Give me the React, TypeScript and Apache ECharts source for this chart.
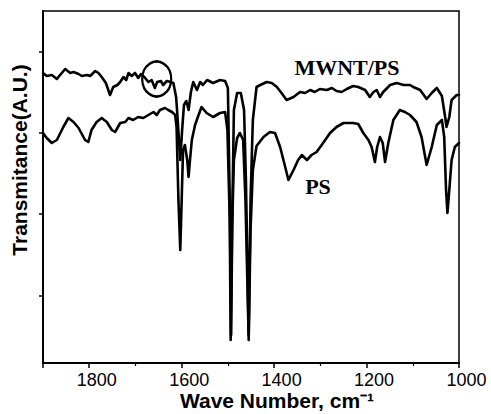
import React, { useEffect, useRef } from "react";
import * as echarts from "echarts";

// Wavenumbers (cm-1) and transmittance (arbitrary units)
const mwntWave = [1900,1892,1881,1870,1863,1852,1841,1834,1823,1816,1805,1798,1787,1780,1773,1764,1755,1748,1739,1733,1726,1720,1715,1708,1701,1694,1688,1679,1672,1665,1658,1653,1645,1640,1632,1624,1618,1612,1610,1603,1599,1595,1590,1585,1580,1575,1567,1560,1554,1545,1532,1517,1506,1500,1496,1493,1490,1487,1480,1472,1465,1461,1455,1451,1446,1438,1430,1416,1405,1394,1384,1373,1358,1344,1333,1322,1312,1301,1286,1275,1265,1254,1243,1229,1218,1203,1193,1185,1178,1171,1164,1149,1135,1120,1106,1099,1084,1070,1059,1048,1037,1030,1027,1021,1016,1005,1000];
const mwntValue = [290,287,288,284,288,294,290,291,289,287,288,287,292,290,286,280,268,276,278,281,286,283,290,287,290,285,289,285,281,283,275,281,282,278,282,281,280,266,253,203,233,258,262,253,271,281,273,281,278,283,280,283,282,275,163,28,163,253,270,270,253,183,28,163,243,276,278,281,280,276,270,263,266,271,270,273,271,274,273,275,272,271,274,277,276,273,266,271,273,266,271,278,280,278,278,276,273,264,270,275,267,246,236,246,263,268,268];

const psWave = [1900,1892,1881,1870,1856,1845,1834,1823,1809,1802,1795,1784,1773,1762,1751,1744,1733,1722,1715,1705,1694,1683,1672,1661,1654,1647,1636,1629,1621,1614,1611,1607,1603,1600,1597,1593,1588,1585,1582,1578,1571,1565,1557,1546,1532,1517,1506,1501,1496,1494,1491,1487,1480,1474,1467,1462,1455,1451,1446,1438,1423,1409,1398,1387,1376,1369,1358,1348,1340,1329,1319,1308,1294,1279,1265,1250,1229,1218,1207,1196,1189,1182,1177,1171,1165,1160,1153,1142,1128,1117,1106,1092,1081,1070,1059,1048,1037,1032,1028,1025,1021,1016,1009,1000];
const psValue = [230,225,220,223,236,245,241,235,223,221,233,241,245,241,233,231,240,241,245,243,246,245,248,251,248,253,255,253,251,248,236,163,113,163,213,218,203,186,203,223,238,246,256,250,246,250,251,233,143,23,133,203,225,230,223,163,23,133,193,217,226,231,230,216,196,183,193,203,208,203,208,211,220,230,236,240,240,239,230,223,216,201,216,226,220,201,220,243,253,251,248,241,226,198,216,238,243,226,173,150,173,203,216,220];

const xTickLabels = ["1000", "1200", "1400", "1600", "1800"];
const yTickValues = [67, 149, 230, 311];
const seriesNames = ["MWNT/PS", "PS"];
const circledPoint = [1654, 284];

export default function App() {
  const ref = useRef<HTMLDivElement>(null);
  useEffect(() => {
    document.body.style.margin = "0";
    const chart = echarts.init(ref.current!, null, { renderer: "svg" });
    const mk = (w: number[], v: number[]) => w.map((x, i) => [x, v[i]]);
    const line = { color: "#000", width: 2.6, cap: "round", join: "round" };
    chart.setOption({
      animation: false,
      grid: { left: 43, right: 32, top: 11, bottom: 51, show: true, borderColor: "#000", borderWidth: 1.5, outerBoundsMode: "none" },
      xAxis: {
        type: "value",
        min: 1000,
        max: 1900,
        interval: 200,
        inverse: true,
        axisLine: { onZero: false, lineStyle: { color: "#000", width: 2 } },
        axisTick: { length: 5, lineStyle: { color: "#000", width: 1.5 } },
        minorTick: { show: true, splitNumber: 2, length: 3, lineStyle: { color: "#000", width: 1.2 } },
        splitLine: { show: false },
        axisLabel: {
          showMaxLabel: false,
          margin: 8,
          padding: [0, 0, 0, 15],
          color: "#000",
          fontSize: 18,
          fontFamily: "Liberation Sans, Arial, sans-serif",
          formatter: (v: number) => (xTickLabels.includes(String(v)) ? String(v) : ""),
        },
      },
      yAxis: {
        type: "value",
        min: 0,
        max: 352,
        axisLine: { onZero: false, lineStyle: { color: "#000", width: 2 } },
        axisTick: { show: true, length: 4, customValues: yTickValues, lineStyle: { color: "#000", width: 1.5 } },
        axisLabel: { show: false },
        splitLine: { show: false },
      },
      series: [
        {
          name: seriesNames[0],
          type: "line",
          data: mk(mwntWave, mwntValue),
          showSymbol: false,
          lineStyle: line,
          markPoint: {
            symbol: "circle",
            symbolSize: [29, 35],
            label: { show: false },
            itemStyle: { color: "rgba(0,0,0,0)", borderColor: "#000", borderWidth: 2.4 },
            data: [{ coord: circledPoint }],
          },
        },
        { name: seriesNames[1], type: "line", data: mk(psWave, psValue), showSymbol: false, lineStyle: line },
      ],
      graphic: [
        {
          type: "text", x: 347, y: 68, scaleX: 1.1,
          style: { text: seriesNames[0], fontSize: 20, fontWeight: "bold", fontFamily: "Liberation Serif, Times New Roman, serif", fill: "#000", align: "center", verticalAlign: "middle" },
        },
        {
          type: "text", x: 318, y: 187, scaleX: 1.1,
          style: { text: seriesNames[1], fontSize: 20, fontWeight: "bold", fontFamily: "Liberation Serif, Times New Roman, serif", fill: "#000", align: "center", verticalAlign: "middle" },
        },
        {
          type: "text", x: 19, y: 160, rotation: Math.PI / 2,
          style: { text: "Transmitance(A.U.)", fontSize: 21, fontWeight: "bold", fontFamily: "Liberation Sans, Arial, sans-serif", fill: "#000", align: "center", verticalAlign: "middle" },
        },
        {
          type: "text", x: 277, y: 400,
          style: { text: "Wave Number, cm⁻¹", fontSize: 21, fontWeight: "bold", fontFamily: "Liberation Sans, Arial, sans-serif", fill: "#000", align: "center", verticalAlign: "middle" },
        },
      ],
    });
    return () => chart.dispose();
  }, []);
  return <div ref={ref} style={{ width: 491, height: 414 }} />;
}
